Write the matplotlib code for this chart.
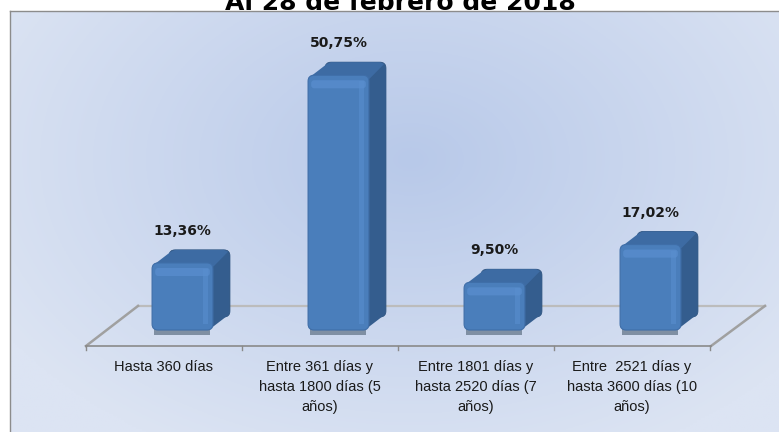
import numpy as np
import matplotlib
matplotlib.use("Agg")
import matplotlib.pyplot as plt
from matplotlib.patches import Polygon, FancyBboxPatch

# ---- data ----
categories = [
    "Hasta 360 días",
    "Entre 361 días y\nhasta 1800 días (5\naños)",
    "Entre 1801 días y\nhasta 2520 días (7\naños)",
    "Entre  2521 días y\nhasta 3600 días (10\naños)",
]
values = [13.36, 50.75, 9.50, 17.02]
value_labels = ["13,36%", "50,75%", "9,50%", "17,02%"]
title = "Al 28 de febrero de 2018"

W, H = 779, 432
fig = plt.figure(figsize=(W / 100, H / 100), dpi=100)

# ---- background panel with radial gradient ----
bg = fig.add_axes([10 / W, 0, 1 - 10 / W, (H - 11) / H])
ny, nx = 200, 400
yy, xx = np.mgrid[0:ny, 0:nx]
cx, cy = nx * 0.52, ny * 0.35
r = np.sqrt(((xx - cx) / nx) ** 2 + ((yy - cy) / ny * 0.8) ** 2)
r = np.clip(r / 0.62, 0, 1)
c0 = np.array([184, 201, 233]) / 255
c1 = np.array([220, 228, 243]) / 255
img = c0[None, None, :] * (1 - r[..., None]) + c1[None, None, :] * r[..., None]
bg.imshow(img, aspect="auto", extent=[0, 1, 0, 1], origin="upper")
bg.set_xticks([])
bg.set_yticks([])
for s in ["right", "bottom"]:
    bg.spines[s].set_visible(False)
for s in ["left", "top"]:
    bg.spines[s].set_color("#8c8c8c")
    bg.spines[s].set_linewidth(1.0)

# ---- main data axes ----
ax = fig.add_axes([0, 0, 1, 1])
ax.set_facecolor("none")
px_per_cat = 156.0
px_per_pct = 5.02
x0_px, y0_px = 182.5, 330.0
ax.set_xlim(-x0_px / px_per_cat, (W - x0_px) / px_per_cat)
ax.set_ylim((y0_px - H) / px_per_pct, y0_px / px_per_pct)
ax.axis("off")
aspect = px_per_cat / px_per_pct

x = np.arange(len(values))
w = 0.39
dx = 0.109
dy = 2.6

# floor (3D plane)
yf, yb = -3.19, 4.8
xf0, xf1 = -0.619, 3.388
xb0, xb1 = -0.285, 3.734
ax.plot([xb0, xb1], [yb, yb], color="#bcbcbc", lw=1.6, zorder=1)
ax.plot([xf0, xb0], [yf, yb], color="#a0a0a0", lw=1.8, zorder=1)
ax.plot([xf1, xb1], [yf, yb], color="#a0a0a0", lw=1.8, zorder=1)
ax.plot([xf0, xf1], [yf, yf], color="#8a8a8a", lw=1.2, zorder=5)
bounds = np.arange(len(values) + 1) + xf0
for b in bounds:
    ax.plot([b, b], [yf, yf - 0.7], color="#8a8a8a", lw=1.0, zorder=5)

# bars (geometry from the library), drawn with a rounded 3D look
bars = ax.bar(x, values, width=w, bottom=0, color="#4a7ebb", zorder=3)
rs = 6 / px_per_cat
rsy = rs * aspect
side_c, top_c, front_c = "#345d8e", "#3d6ba3", "#4a7ebb"
for b in bars:
    b.set_visible(False)
    bx, bw, v = b.get_x(), b.get_width(), b.get_height()
    xr = bx + bw
    # shadow
    ax.add_patch(Polygon([(bx + 0.01, -0.9), (xr - 0.02, -0.9),
                          (xr - 0.02, 0.5), (bx + 0.01, 0.5)],
                         closed=True, facecolor="#7f8fa3", edgecolor="none", zorder=2))
    # back face
    ax.add_patch(FancyBboxPatch((bx + dx, dy), bw, v,
                                boxstyle=f"round,pad=0,rounding_size={rs}",
                                mutation_aspect=aspect,
                                facecolor=side_c, edgecolor="#2e5480",
                                lw=0.6, zorder=3))
    # side face
    ax.add_patch(Polygon([(xr - rs * 0.3, rsy * 0.3), (xr + dx - rs * 0.3, dy + rsy * 0.3),
                          (xr + dx, v + dy - rsy), (xr, v - rsy)],
                         closed=True, facecolor=side_c, edgecolor="none", zorder=3.1))
    # top face
    ax.add_patch(Polygon([(bx + rs * 0.3, v - 0.3 * rsy),
                          (bx + dx + rs * 0.3, v + dy - 0.3 * rsy),
                          (bx + dx + rs, v + dy), (xr + dx - rs, v + dy),
                          (xr + dx - rs * 0.3, v + dy - 0.3 * rsy),
                          (xr - rs * 0.3, v - rsy)],
                         closed=True, facecolor=top_c, edgecolor="none", zorder=3.2))
    # front face
    ax.add_patch(FancyBboxPatch((bx, 0), bw, v,
                                boxstyle=f"round,pad=0,rounding_size={rs}",
                                mutation_aspect=aspect,
                                facecolor=front_c, edgecolor="#3f6ea8",
                                lw=0.8, zorder=3.5))
    # highlights on front face
    ax.add_patch(FancyBboxPatch((bx + 0.02, v - 2.6), bw - 0.04, 1.6,
                                boxstyle=f"round,pad=0,rounding_size={rs*0.5}",
                                mutation_aspect=aspect,
                                facecolor="#5a8fd0", edgecolor="none",
                                alpha=0.7, zorder=4))
    ax.add_patch(Polygon([(xr - 0.065, 1.2), (xr - 0.03, 1.2),
                          (xr - 0.03, v - 1.2), (xr - 0.065, v - 1.2)],
                         closed=True, facecolor="#5a8fd0", edgecolor="none",
                         alpha=0.55, zorder=4))

# value labels
for xi, v, lab in zip(x, values, value_labels):
    ax.annotate(lab, (xi, v), xytext=(0, 18), textcoords="offset points",
                ha="center", va="bottom", fontsize=10, fontweight="bold",
                color="#1a1a1a", family="DejaVu Sans", zorder=6)

# category labels
for i, lab in enumerate(categories):
    ax.text(i + xf0 + 0.5, yf - 2.7, lab, ha="center", va="top",
            fontsize=10.5, linespacing=1.55, color="#1a1a1a",
            family=["Liberation Sans", "DejaVu Sans"], zorder=6)

# title (clipped at the top as in the reference)
fig.text(400 / W, 1 - 10 / H, title, ha="center", va="baseline",
         fontsize=18, fontweight="bold", color="#000000", family="DejaVu Sans")

fig.savefig("out.png", dpi=100)
